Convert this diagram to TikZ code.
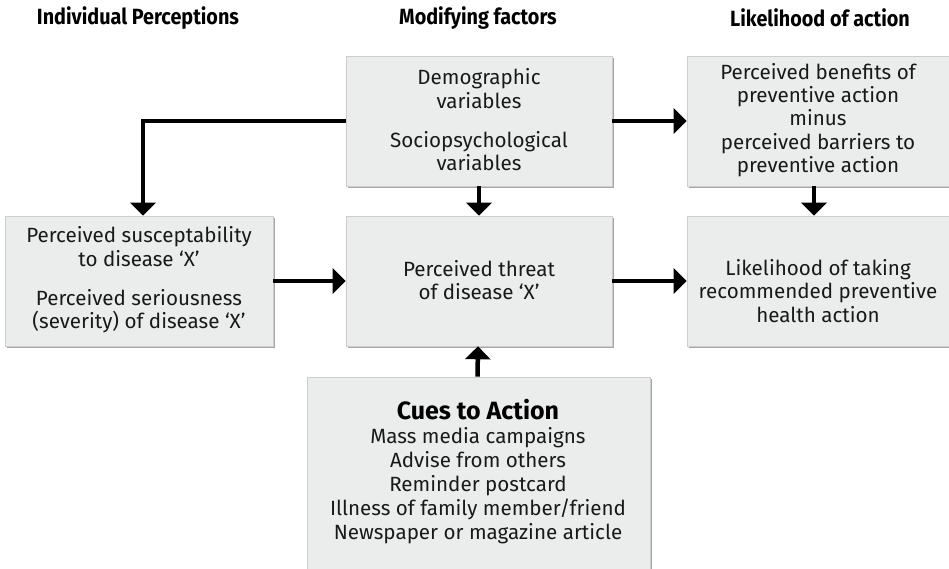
\documentclass[tikz,border=0pt]{standalone}
\usepackage{fontspec}
\setmainfont{Fira Sans}
\newfontfamily\hdrfont[FakeStretch=0.9]{Fira Sans}
\usetikzlibrary{arrows.meta,shadows}
\definecolor{boxgray}{RGB}{235,236,236}
\definecolor{edgegray}{RGB}{205,205,205}
\definecolor{txt}{RGB}{25,25,25}
\tikzset{
  box/.style={draw=edgegray, line width=0.6pt, fill=boxgray, inner sep=0pt,
    drop shadow={shadow xshift=1.8pt, shadow yshift=-1.8pt, fill=black, opacity=0.35}},
  body/.style={text=txt, align=center, inner sep=0pt, font=\fontsize{20.6}{23.3}\selectfont},
  hdr/.style={text=black, inner sep=0pt, font=\hdrfont\bfseries\fontsize{22}{24}\selectfont},
  arr/.style={line width=4.5pt, draw=black, -{Triangle[length=13pt,width=25pt]}}
}
\begin{document}
\begin{tikzpicture}[x=1pt,y=-1pt]
\useasboundingbox (0,0) rectangle (949,569);
% headers
\node[hdr] (h1) at (138,18) {Individual Perceptions};
\node[hdr] (h2) at (478,18) {Modifying factors};
\node[hdr] (h3) at (820,18) {Likelihood of action};
% boxes
\node[box, minimum width=266pt, minimum height=130pt] (demo) at (479,121) {};
\node[box, minimum width=266pt, minimum height=130pt] (bene) at (820,121) {};
\node[box, minimum width=268pt, minimum height=130pt] (left) at (139,281) {};
\node[box, minimum width=266pt, minimum height=130pt] (threat) at (479,281) {};
\node[box, minimum width=266pt, minimum height=130pt] (like) at (820,281) {};
\node[box, minimum width=343pt, minimum height=213pt] (cues) at (478.5,483.5) {};
% texts
\node[body] (demoT) at (479,120) {Demographic\\variables\\[16pt]Sociopsychological\\variables};
\node[body] (beneT) at (818,120) {Perceived benefits of\\preventive action\\minus\\perceived barriers to\\preventive action};
\node[body] (leftT) at (139,280) {Perceived susceptability\\to disease ‘X’\\[16pt]Perceived seriousness\\(severity) of disease ‘X’};
\node[body] (threatT) at (479,280) {Perceived threat\\of disease ‘X’};
\node[body] (likeT) at (818,291) {Likelihood of taking\\recommended preventive\\health action};
\node[text=black, inner sep=0pt, font=\bfseries\fontsize{25}{28}\selectfont] (cuesH) at (478,410) {Cues to Action};
\node[body, font=\fontsize{20.6}{24}\selectfont] (cuesT) at (478,486) {Mass media campaigns\\Advise from others\\Reminder postcard\\Illness of family member/friend\\Newspaper or magazine article};
% connectors
\draw[arr] (demo.west) -| ([xshift=4pt]left.north);
\draw[arr] (demo.south) -- (threat.north);
\draw[arr] (demo.east) -- (bene.west |- demo.east);
\draw[arr] ([xshift=-6pt]bene.south) -- ([xshift=-6pt]like.north);
\draw[arr] (left.east) -- (threat.west);
\draw[arr] (threat.east) -- (like.west);
\draw[arr] ([xshift=-1pt]cues.north) -- ([xshift=-1pt]threat.south);
\end{tikzpicture}
\end{document}
